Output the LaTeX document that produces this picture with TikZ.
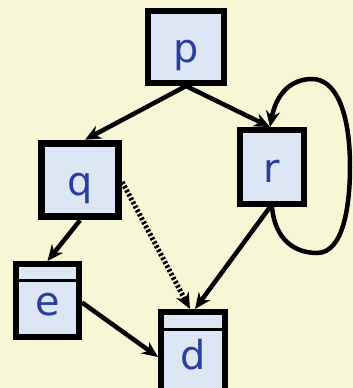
\documentclass[tikz,border=0pt]{standalone}
\usepackage{fontspec}
\setmainfont{DejaVu Sans}
\usetikzlibrary{arrows.meta}
\definecolor{bgc}{HTML}{F8F7D5}
\definecolor{boxc}{HTML}{DCE6F5}
\definecolor{txtc}{HTML}{2A3E9E}
\begin{document}
\begin{tikzpicture}[x=1bp,y=-1bp,
  vbox/.style={draw=black,fill=boxc,line width=6bp,text=txtc,
    font=\fontsize{40}{40}\selectfont,text height=30bp,text depth=0pt,inner sep=0pt},
  conn/.style={line width=4.5bp,-{Stealth[length=16bp,width=14bp]}},
  divline/.style={line width=3bp}]
\useasboundingbox[fill=bgc] (0,0) rectangle (353,388);
\node[vbox,minimum width=76bp,minimum height=72bp] (p) at (186,47) {p};
\node[vbox,line width=7.5bp,minimum width=77bp,minimum height=73bp] (q) at (80,180) {q};
\node[vbox,minimum width=64bp,minimum height=74bp] (r) at (272,167) {r};
\node[vbox,minimum width=63bp,minimum height=73bp] (e) at (47.5,300.5) {e};
\node[vbox,minimum width=64bp,minimum height=84bp] (d) at (193,354) {d};
\draw[divline] ([yshift=-19bp]e.north west) -- ([yshift=-19bp]e.north east);
\draw[divline] ([yshift=-20bp]d.north west) -- ([yshift=-20bp]d.north east);
\draw[conn] (p.south) -- ([xshift=5bp]q.north);
\draw[conn] (p.south) -- ([xshift=-2bp]r.north);
\draw[conn] (r.south) .. controls (275,240) and (295,253) .. (317,253)
  .. controls (345,253) and (350,200) .. (350,167)
  .. controls (350,110) and (335,79) .. (312,79)
  .. controls (290,79) and (276,95) .. ([xshift=-2bp]r.north);
\draw[conn] (q.south) -- (e.north);
\draw[line width=5bp,dash pattern=on 2.5bp off 2bp,-{Stealth[length=16bp,width=14bp]}] ([yshift=-2bp]q.east) -- ([xshift=-3bp]d.north);
\draw[conn] ([xshift=-2bp]r.south) -- ([xshift=2bp]d.north);
\draw[conn] ([yshift=-2bp]e.east) -- ([yshift=-3bp]d.west);
\end{tikzpicture}
\end{document}
